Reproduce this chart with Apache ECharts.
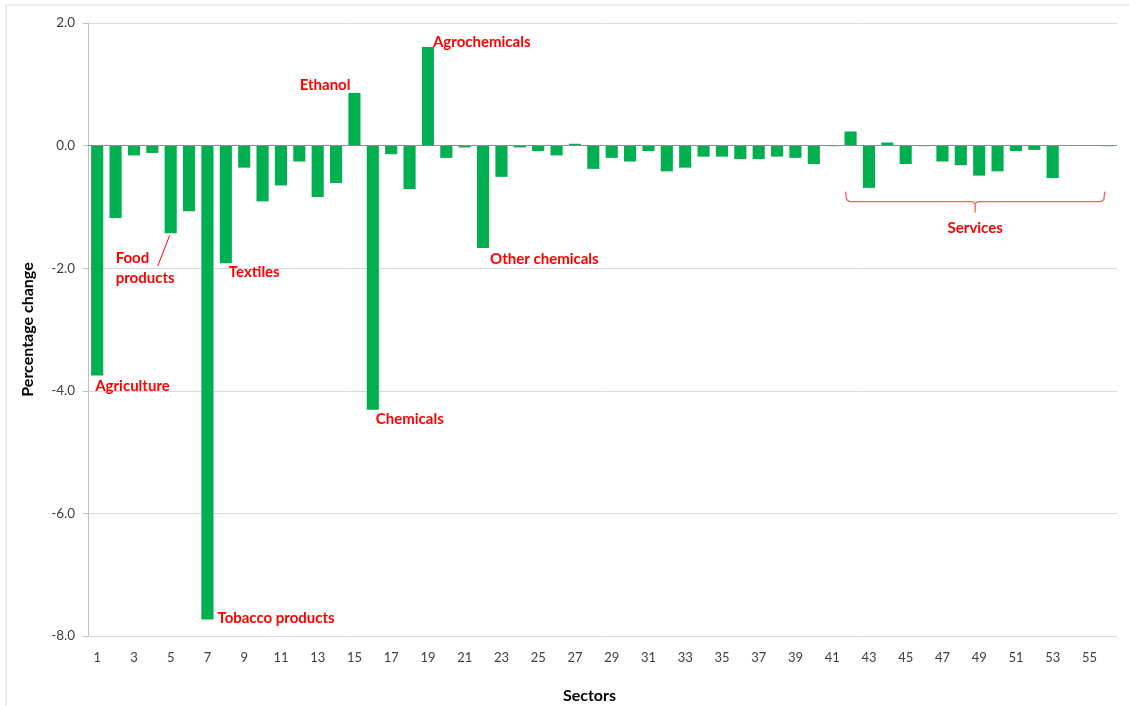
<!DOCTYPE html>
<html>
<head>
<meta charset="utf-8">
<script src="https://cdn.jsdelivr.net/npm/echarts@6/dist/echarts.min.js"></script>
<style>
html,body{margin:0;padding:0;background:#fff;}
#chart{width:1129px;height:706px;}
</style>
</head>
<body>
<div id="chart"></div>
<script>
// ---- data ----
var sectors = [];
for (var i = 1; i <= 56; i++) sectors.push(String(i));
var changes = [
  -3.75, -1.18, -0.16, -0.12, -1.43, -1.07, -7.73, -1.92, -0.36, -0.91,
  -0.65, -0.26, -0.84, -0.61, 0.86, -4.31, -0.14, -0.71, 1.61, -0.20,
  -0.03, -1.67, -0.51, -0.03, -0.09, -0.16, 0.03, -0.38, -0.20, -0.26,
  -0.09, -0.42, -0.36, -0.18, -0.18, -0.22, -0.22, -0.18, -0.20, -0.30,
  -0.01, 0.23, -0.69, 0.05, -0.30, -0.01, -0.26, -0.32, -0.49, -0.42,
  -0.09, -0.07, -0.53, 0.00, 0.00, -0.01
];
var yTicks = [-8, -6, -4, -2, 0, 2];
var annotationTexts = ['Agriculture', 'Food\nproducts', 'Textiles', 'Tobacco products', 'Ethanol', 'Chemicals', 'Agrochemicals', 'Other chemicals'];
var annotationSectors = ['1', '5', '8', '7', '15', '16', '19', '22'];
var servicesRange = ['42', '56'];
var servicesLabel = 'Services';

// ---- layout (pixel offsets from anchor) ----
var annotationLayout = [
  {dx: -2, dy: 11, align: 'left'},
  {dx: -55, dy: 15, align: 'left', top: true},
  {dx: 3, dy: 9, align: 'left'},
  {dx: 10, dy: -1, align: 'left'},
  {dx: -4, dy: -8, align: 'right'},
  {dx: 3, dy: 9, align: 'left'},
  {dx: 5, dy: -5, align: 'left'},
  {dx: 7, dy: 11, align: 'left'}
];

var FONT = 'Lato, "Open Sans", sans-serif';
var RED = '#ff0000';
var chart = echarts.init(document.getElementById('chart'));

var option = {
  animation: false,
  backgroundColor: '#ffffff',
  grid: {left: 88, right: 12, top: 23, bottom: 70, containLabel: false, outerBoundsMode: 'none'},
  xAxis: {
    type: 'category',
    data: sectors,
    name: 'Sectors',
    nameLocation: 'middle',
    nameGap: 52,
    nameTextStyle: {fontFamily: FONT, fontWeight: 'bold', fontSize: 16, color: '#000', padding: [0, 26, 0, 0]},
    axisLine: {show: false, onZero: false},
    axisTick: {show: false},
    axisLabel: {interval: 1, margin: 15, fontFamily: FONT, fontSize: 13, color: '#404040'},
    splitLine: {show: false}
  },
  yAxis: {
    type: 'value',
    min: yTicks[0],
    max: yTicks[yTicks.length - 1],
    interval: 2,
    name: 'Percentage change',
    nameLocation: 'middle',
    nameGap: 52,
    nameTextStyle: {fontFamily: FONT, fontWeight: 'bold', fontSize: 16, color: '#000'},
    axisLine: {show: true, lineStyle: {color: '#bfbfbf'}},
    axisTick: {show: true, length: 5, lineStyle: {color: '#bfbfbf'}},
    axisLabel: {margin: 13, fontFamily: FONT, fontSize: 13.5, color: '#404040',
      formatter: function (v) { return v.toFixed(1); }},
    splitLine: {show: true, lineStyle: {color: '#d9d9d9', width: 1}}
  },
  series: [{
    type: 'bar',
    data: changes,
    barWidth: '66%',
    itemStyle: {color: '#00b050'},
    markLine: {
      silent: true,
      symbol: 'none',
      label: {show: false},
      lineStyle: {color: '#8c8c8c', type: 'solid', width: 1},
      data: [{yAxis: 0}]
    }
  }]
};
chart.setOption(option);

function px(cat, val) { return chart.convertToPixel({gridIndex: 0}, [cat, val]); }

var graphics = [];
// chart border
graphics.push({type: 'rect', shape: {x: 6, y: 5, width: 1140, height: 720}, style: {fill: null, stroke: '#d9d9d9', lineWidth: 1}, silent: true, z: -1});

for (var k = 0; k < annotationTexts.length; k++) {
  var idx = parseInt(annotationSectors[k], 10) - 1;
  var p = px(annotationSectors[k], changes[idx]);
  var L = annotationLayout[k];
  graphics.push({
    type: 'text',
    x: p[0] + L.dx, y: p[1] + L.dy,
    style: {text: annotationTexts[k], fill: RED, font: 'bold 15px ' + FONT,
      align: L.align, verticalAlign: L.top ? 'top' : 'middle', lineHeight: 20},
    silent: true, z: 10
  });
  if (L.top) {
    graphics.push({type: 'line', shape: {x1: p[0] - 1, y1: p[1] + 2, x2: p[0] - 13, y2: p[1] + 33},
      style: {stroke: RED, lineWidth: 1}, silent: true, z: 10});
  }
}

// services brace
var a = px(servicesRange[0], -0.75);
var b = px(servicesRange[1], -0.75);
var x1 = a[0] - 5, x2 = b[0] - 3, yTop = a[1], yMid = yTop + 10, yTip = yTop + 21;
var xm = (x1 + x2) / 2;
graphics.push({type: 'polyline', shape: {points: [[x1, yTop], [x1 + 1, yMid - 2], [x1 + 4, yMid], [xm - 3, yMid], [xm, yMid + 2], [xm, yTip]]},
  style: {stroke: '#ff5b5b', lineWidth: 1.3, fill: null}, silent: true, z: 10});
graphics.push({type: 'polyline', shape: {points: [[x2, yTop], [x2 - 1, yMid - 2], [x2 - 4, yMid], [xm + 3, yMid], [xm, yMid + 2]]},
  style: {stroke: '#ff5b5b', lineWidth: 1.3, fill: null}, silent: true, z: 10});
graphics.push({type: 'text', x: xm, y: yTip + 16,
  style: {text: servicesLabel, fill: RED, font: 'bold 15px ' + FONT, align: 'center', verticalAlign: 'middle'},
  silent: true, z: 10});

chart.setOption({graphic: graphics});
</script>
</body>
</html>
